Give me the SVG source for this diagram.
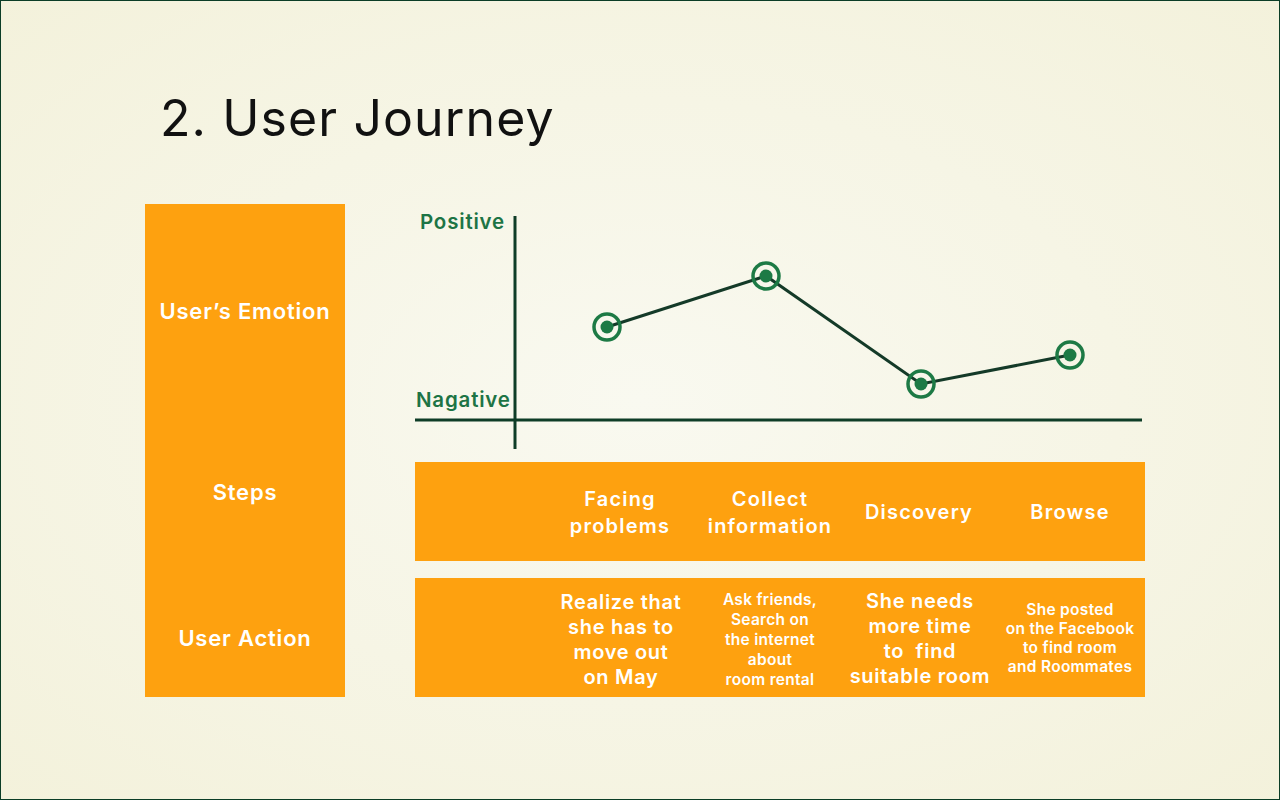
<svg xmlns="http://www.w3.org/2000/svg" width="1280" height="800" viewBox="0 0 1280 800">
  <defs>
    <radialGradient id="bg" cx="50%" cy="50%" r="75%">
      <stop offset="0" stop-color="#f9f9f0"/>
      <stop offset="1" stop-color="#f3f1da"/>
    </radialGradient>
  </defs>
  <style>
    .panel { fill: #fea10f; }
    .lbl { font-family: Inter, "Noto Sans", sans-serif; font-weight: 600; fill: #ffffff; text-anchor: middle; }
    .head { font-size: 22px; letter-spacing: 0.8px; }
    .step { font-size: 20px; letter-spacing: 1.2px; }
    .big { font-size: 20px; letter-spacing: 0.7px; }
    .small { font-size: 15.5px; letter-spacing: 0.3px; }
    .axis { stroke: #0e3d27; stroke-width: 3; fill: none; }
    .trend { stroke: #143a28; stroke-width: 3; fill: none; }
    .ring { fill: none; stroke: #1d7a45; stroke-width: 3.5; }
    .dot { fill: #1d7a45; }
    .axislbl { font-family: Inter, "Noto Sans", sans-serif; font-weight: 600; font-size: 20.5px; letter-spacing: 0.8px; fill: #1d7445; }
  </style>

  <rect x="0.5" y="0.5" width="1279" height="799" fill="url(#bg)" stroke="#0b3d26" stroke-width="1"/>

  <text x="160" y="136" font-family="Inter, 'Noto Sans', sans-serif" font-size="50" letter-spacing="1.1" fill="#111111">2. User Journey</text>

  <!-- row headings -->
  <g id="row-headings">
    <rect class="panel" x="145" y="204" width="200" height="493"/>
    <text class="lbl head" x="245" y="319">User’s Emotion</text>
    <text class="lbl head" x="245" y="500">Steps</text>
    <text class="lbl head" x="245" y="646">User Action</text>
  </g>

  <!-- emotion chart axes -->
  <g id="axes">
    <line class="axis" x1="515" y1="216" x2="515" y2="449"/>
    <line class="axis" x1="415" y1="420" x2="1142" y2="420"/>
    <text class="axislbl" x="420" y="229">Positive</text>
    <text class="axislbl" x="416" y="407">Nagative</text>
  </g>

  <!-- emotion curve -->
  <g id="connectors">
    <polyline class="trend" points="607,327 766,276 921,384 1070,355"/>
  </g>

  <g id="point-facing">
    <circle class="ring" cx="607" cy="327" r="13"/>
    <circle class="dot" cx="607" cy="327" r="6.5"/>
  </g>
  <g id="point-collect">
    <circle class="ring" cx="766" cy="276" r="13"/>
    <circle class="dot" cx="766" cy="276" r="6.5"/>
  </g>
  <g id="point-discovery">
    <circle class="ring" cx="921" cy="384" r="13"/>
    <circle class="dot" cx="921" cy="384" r="6.5"/>
  </g>
  <g id="point-browse">
    <circle class="ring" cx="1070" cy="355" r="13"/>
    <circle class="dot" cx="1070" cy="355" r="6.5"/>
  </g>

  <!-- steps row -->
  <g id="steps">
    <rect class="panel" x="415" y="462" width="730" height="99"/>
    <text class="lbl step" x="620" y="506">Facing</text>
    <text class="lbl step" x="620" y="533">problems</text>
    <text class="lbl step" x="770" y="506">Collect</text>
    <text class="lbl step" x="770" y="533">information</text>
    <text class="lbl step" x="919" y="519">Discovery</text>
    <text class="lbl step" x="1070" y="519">Browse</text>
  </g>

  <!-- user action row -->
  <g id="actions">
    <rect class="panel" x="415" y="578" width="730" height="119"/>
    <text class="lbl big" x="621" y="609">Realize that</text>
    <text class="lbl big" x="621" y="634">she has to</text>
    <text class="lbl big" x="621" y="659">move out</text>
    <text class="lbl big" x="621" y="684">on May</text>

    <text class="lbl small" x="770" y="605">Ask friends,</text>
    <text class="lbl small" x="770" y="625">Search on</text>
    <text class="lbl small" x="770" y="645">the internet</text>
    <text class="lbl small" x="770" y="665">about</text>
    <text class="lbl small" x="770" y="685">room rental</text>

    <text class="lbl big" x="920" y="608">She needs</text>
    <text class="lbl big" x="920" y="633">more time</text>
    <text class="lbl big" x="920" y="658" xml:space="preserve">to  find</text>
    <text class="lbl big" x="920" y="683">suitable room</text>

    <text class="lbl small" x="1070" y="615">She posted</text>
    <text class="lbl small" x="1070" y="634">on the Facebook</text>
    <text class="lbl small" x="1070" y="653">to find room</text>
    <text class="lbl small" x="1070" y="672">and Roommates</text>
  </g>
</svg>
